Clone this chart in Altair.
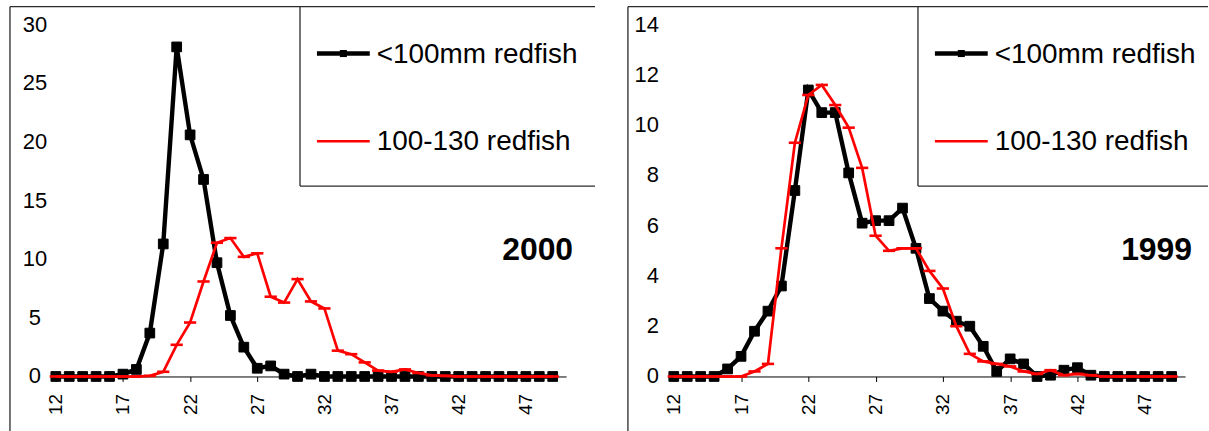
import altair as alt
import pandas as pd

# Length classes (cm) on the category axis
lengths = list(range(12, 50))
x_ticks = [12, 17, 22, 27, 32, 37, 42, 47]
series_names = ["<100mm redfish", "100-130 redfish"]

# Percentage at length, 2000 survey
small_2000 = [0, 0, 0, 0, 0, 0.2, 0.6, 3.7, 11.3, 28.1, 20.6, 16.8, 9.7, 5.2, 2.5,
              0.7, 0.9, 0.2, 0, 0.2, 0, 0, 0, 0, 0, 0, 0, 0, 0, 0, 0, 0, 0, 0, 0, 0, 0, 0]
mid_2000 = [0, 0, 0, 0, 0, 0, 0, 0.05, 0.4, 2.7, 4.6, 8.1, 11.4, 11.8, 10.2, 10.5,
            6.8, 6.3, 8.3, 6.4, 5.8, 2.2, 1.9, 1.2, 0.5, 0.4, 0.6, 0.3, 0.1, 0.05,
            0, 0, 0, 0, 0, 0, 0, 0]

# Percentage at length, 1999 survey
small_1999 = [0, 0, 0, 0, 0.3, 0.8, 1.8, 2.6, 3.6, 7.4, 11.4, 10.5, 10.5, 8.1, 6.1,
              6.2, 6.2, 6.7, 5.1, 3.1, 2.6, 2.2, 2.0, 1.2, 0.2, 0.7, 0.5, 0, 0.05,
              0.25, 0.35, 0.05, 0, 0, 0, 0, 0, 0]
mid_1999 = [0, 0, 0, 0, 0, 0, 0.2, 0.5, 5.1, 9.3, 11.2, 11.6, 10.8, 9.9, 8.3, 5.6,
            5.0, 5.1, 5.1, 4.2, 3.5, 2.0, 0.9, 0.6, 0.5, 0.4, 0.2, 0.1, 0.25, 0.05,
            0.1, 0.05, 0, 0, 0, 0, 0, 0]

FONT = "Liberation Sans"
FRAME = "#2a2a2a"
ANCHOR = pd.DataFrame({"a": [0]})


def panel(small, mid, year, ymax, ystep, width, label_align, label_x, frame_right):
    df = pd.DataFrame({
        "length": lengths * 2,
        "value": small + mid,
        "series": [series_names[0]] * len(lengths) + [series_names[1]] * len(lengths),
    })
    y_ticks = list(range(0, ymax + 1, ystep))
    y_scale = alt.Scale(domain=[0, ymax], nice=False)
    x = alt.X("length:Q", title=None,
              scale=alt.Scale(domain=[12, 50], nice=False, zero=False),
              axis=alt.Axis(values=x_ticks, labelAngle=270, labelFontSize=19,
                            labelFont=FONT, labelColor="black", labelPadding=12,
                            tickSize=5, tickColor="black", domainColor="black",
                            grid=False, labelFlush=False, labelOverlap=False))
    y = alt.Y("value:Q", title=None, scale=y_scale,
              axis=alt.Axis(values=y_ticks, labels=False, tickSize=5,
                            tickColor="black", domainColor="black", grid=False))
    base = alt.Chart(df).encode(x=x, y=y)
    black = base.transform_filter(alt.datum.series == series_names[0])
    red = base.transform_filter(alt.datum.series == series_names[1])

    black_line = black.mark_line(color="black", strokeWidth=4.4)
    black_pts = black.mark_point(shape="square", filled=True, fill="black",
                                 stroke="black", strokeWidth=1, size=95, opacity=1)
    red_line = red.mark_line(color="#ff0000", strokeWidth=2.7)
    red_pts = red.mark_point(shape="M-1,0L1,0", filled=False, stroke="#ff0000",
                             strokeWidth=2.6, size=150, opacity=1)

    # y tick labels, placed through the y scale
    y_labels = alt.Chart(pd.DataFrame({"value": y_ticks})).mark_text(
        align=label_align, baseline="middle", font=FONT, fontSize=22, color="black"
    ).encode(
        x=alt.value(label_x),
        y=alt.Y("value:Q", scale=y_scale, axis=None),
        text=alt.Text("value:Q"),
    )

    deco = alt.Chart(ANCHOR)
    frame = [
        # outer chart frame
        deco.mark_rule(color=FRAME, strokeWidth=1.3).encode(
            x=alt.value(-46), y=alt.value(-18), y2=alt.value(409)),
        deco.mark_rule(color=FRAME, strokeWidth=1.3).encode(
            x=alt.value(-46), x2=alt.value(frame_right), y=alt.value(-18)),
        # legend box
        deco.mark_rule(color=FRAME, strokeWidth=1.3).encode(
            x=alt.value(245), y=alt.value(-18), y2=alt.value(162)),
        deco.mark_rule(color=FRAME, strokeWidth=1.3).encode(
            x=alt.value(245), x2=alt.value(frame_right), y=alt.value(162)),
    ]

    legend = [
        deco.mark_rule(color="black", strokeWidth=4.4).encode(
            x=alt.value(262), x2=alt.value(315), y=alt.value(29)),
        deco.mark_point(shape="square", filled=True, fill="black", size=50, opacity=1).encode(
            x=alt.value(288.5), y=alt.value(29)),
        deco.mark_rule(color="#ff0000", strokeWidth=2.7).encode(
            x=alt.value(262), x2=alt.value(315), y=alt.value(117)),
        deco.mark_text(align="left", baseline="middle", font=FONT, fontSize=28,
                       color="black").encode(
            x=alt.value(322), y=alt.value(30), text=alt.value(series_names[0])),
        deco.mark_text(align="left", baseline="middle", font=FONT, fontSize=28,
                       color="black").encode(
            x=alt.value(322), y=alt.value(118), text=alt.value(series_names[1])),
        deco.mark_text(align="right", baseline="middle", font=FONT, fontSize=32,
                       fontWeight="bold", color="black").encode(
            x=alt.value(width + 7), y=alt.value(226), text=alt.value(year)),
    ]
    return alt.layer(*frame, *legend, y_labels, black_line, black_pts,
                     red_line, red_pts).properties(width=width, height=353)


left = panel(small_2000, mid_2000, "2000", 30, 5, 512, "center", -21, 541)
right = panel(small_1999, mid_1999, "1999", 14, 2, 513, "right", -15, 536)

chart = alt.hconcat(left, right, spacing=31).properties(
    padding={"left": 9, "top": 5, "right": 0, "bottom": 0},
    background="white",
).configure_view(strokeWidth=0)

chart.save("out.html", embed_options={"renderer": "svg", "actions": False})
